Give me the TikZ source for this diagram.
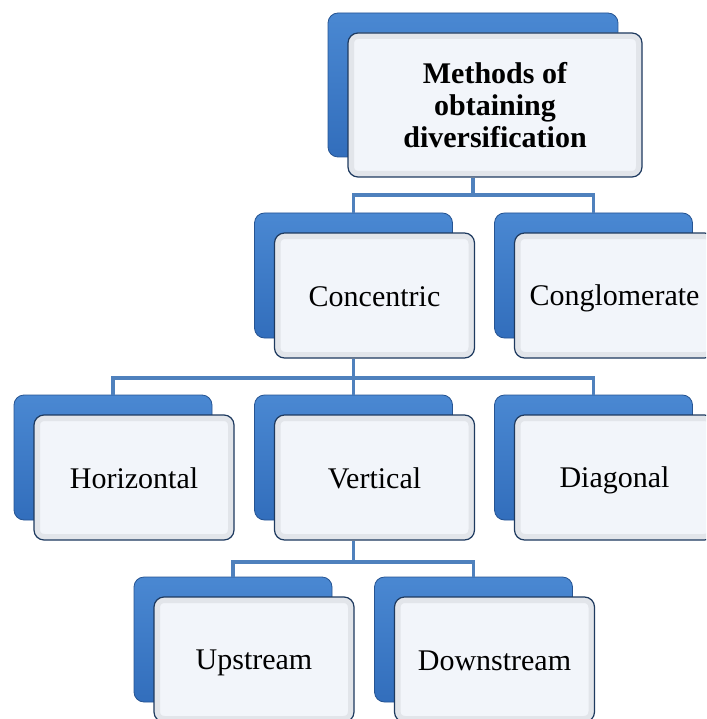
\documentclass[tikz,border=0pt]{standalone}
\usepackage{fontspec}
\setmainfont{Liberation Serif}
\usetikzlibrary{positioning}

\definecolor{linkblue}{RGB}{79,129,189}
\definecolor{tiletop}{RGB}{74,136,210}
\definecolor{tilebot}{RGB}{50,110,188}
\definecolor{tileedge}{RGB}{38,84,146}
\definecolor{facefill}{RGB}{242,245,250}
\definecolor{facerim}{RGB}{226,229,234}
\definecolor{faceedge}{RGB}{30,58,95}

\tikzset{
	back/.style={rounded corners=10pt, minimum width=198pt, minimum height=125pt, inner sep=0pt,
		top color=tiletop, bottom color=tilebot, draw=tileedge, line width=0.8pt},
	face/.style={rounded corners=10pt, minimum width=200pt, minimum height=125pt, inner sep=0pt,
		fill=facefill, draw=faceedge, line width=1.2pt, align=center,
		font=\fontsize{30}{32}\selectfont,
		path picture={\draw[facerim, line width=12pt, rounded corners=10pt]
			(path picture bounding box.south west) rectangle (path picture bounding box.north east);}},
	link/.style={draw=linkblue, line width=3.5pt}
}

% blue tile behind, white face in front
\def\tile#1(#2,#3)#4{
	\node[back] (#1b) at (#2,#3) {};
	\node[face] (#1) at (#2+21,#3+20) {\rule[-5pt]{0pt}{31pt}#4};
}

\begin{document}
\begin{tikzpicture}[x=1pt, y=-1pt]
				\useasboundingbox (0,0) rectangle (706,719);
				\clip (0,0) rectangle (706,719);
				
				\node[back, minimum width=290pt, minimum height=144pt] (topb) at (473,85) {};
				\node[face, minimum width=294pt, minimum height=144pt, font=\bfseries\fontsize{30}{32}\selectfont] (top) at (495,105) {Methods of\\obtaining\\diversification};
				
				\tile{conc}(353.5,275.5){Concentric}
				\tile{congl}(593.5,275.5){Conglomerate}
				
				\tile{horiz}(113,457.5){Horizontal}
				\tile{vert}(353.5,457.5){Vertical}
				\tile{diag}(593.5,457.5){Diagonal}
				
				\tile{up}(233,639.5){Upstream}
				\tile{down}(473.5,639.5){Downstream}
				
				% levels of the tree
				\coordinate (lvA) at (0,195);
				\coordinate (lvB) at (0,378);
				\coordinate (lvC) at (0,562);
				
				\draw[link] (topb.south |- top.south) -- (topb.south |- lvA) -| (concb.north);
				\draw[link] (topb.south |- lvA) -| (conglb.north);
				
				\draw[link] (concb.south |- conc.south) -- (concb.south |- lvB) -| (horizb.north);
				\draw[link] (concb.south |- lvB) -- (vertb.north);
				\draw[link] (concb.south |- lvB) -| (diagb.north);
				
				\draw[link] (vertb.south |- vert.south) -- (vertb.south |- lvC) -| (upb.north);
				\draw[link] (vertb.south |- lvC) -| (downb.north);
			\end{tikzpicture}
\end{document}
